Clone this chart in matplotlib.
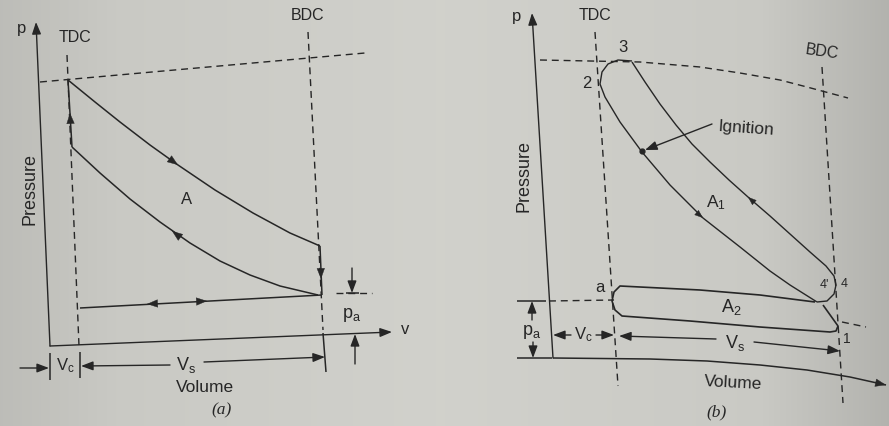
import numpy as np
import matplotlib
matplotlib.use("Agg")
import matplotlib.pyplot as plt

W, H = 889, 426
INK = "#262626"
SANS = "Liberation Sans"
SERIF = "Liberation Serif"

# ---- (a) ideal cycle (pixel frame of the page) ----
a_p_axis = [(50, 346), (36, 22)]
a_v_axis = [(50, 346), (392, 332)]
a_tdc = [(67, 55), (79, 346)]
a_bdc = [(308, 32), (323, 330)]
a_top_dash = [(40, 82), (365, 53)]
a_expansion = [(68, 80), (95, 102), (120, 122), (150, 145), (178, 165),
               (215, 190), (253, 213), (290, 233), (320, 246)]
a_compression = [(72, 147), (100, 173), (130, 199), (160, 222), (190, 243),
                 (220, 261), (250, 275), (280, 286), (318, 295)]
a_heat_add = [(72, 147), (68, 80)]
a_blowdown = [(320, 246), (322, 295)]
a_pumping = [(80, 308), (322, 295)]

# ---- (b) actual cycle ----
b_p_axis = [(553, 358), (532, 13)]
b_v_axis = [(553, 358), (650, 359), (707, 361), (760, 365), (807, 370),
            (850, 377), (886, 385)]
b_tdc = [(595, 32), (618, 386)]
b_bdc = [(822, 67), (843, 403)]
b_top_dash = [(540, 60), (640, 62), (700, 67), (740, 73), (780, 80),
              (807, 87), (848, 98)]
b_expansion = [(632, 62), (645, 82), (660, 104), (676, 125), (692, 144),
               (710, 162), (729, 180), (748, 197), (770, 216), (790, 234),
               (810, 252), (826, 266), (834, 276), (836, 285), (834, 294),
               (827, 301), (817, 302)]
b_compression = [(817, 302), (790, 285), (770, 271), (740, 247), (703, 218),
                 (670, 185), (642, 152), (620, 122), (605, 97), (600, 84),
                 (602, 72), (608, 64), (618, 60), (632, 61)]
b_pumping = [(823, 305), (838, 326), (836, 331), (830, 332), (760, 327),
             (690, 321), (622, 316), (615, 310), (612, 301), (614, 292),
             (620, 286), (700, 290), (760, 295), (815, 302)]
b_ignition = (642, 151)


def line(pts, ls="-", lw=1.1):
    x, y = zip(*pts)
    ax.plot(x, y, color=INK, lw=lw, ls=ls, solid_capstyle="butt",
            dash_capstyle="butt", solid_joinstyle="round")


def dashed(pts):
    line(pts, ls=(0, (5, 3.5)), lw=1.0)


def head(x, y, dx, dy, size=9):
    n = np.hypot(dx, dy)
    ax.annotate("", xy=(x, y), xytext=(x - dx / n, y - dy / n),
                arrowprops=dict(arrowstyle="-|>,head_length=0.8,head_width=0.3",
                                mutation_scale=size, lw=0.3, fc=INK, ec=INK,
                                shrinkA=0, shrinkB=0))


def arrow(tail, tip, size=9):
    ax.annotate("", xy=tip, xytext=tail,
                arrowprops=dict(arrowstyle="-|>,head_length=0.8,head_width=0.3",
                                mutation_scale=size, lw=1.0, fc=INK, ec=INK,
                                shrinkA=0, shrinkB=0))


def label(x, y, s, size=11.5, rot=0, family=SANS, style="normal"):
    ax.text(x, y, s, ha="center", va="center", fontsize=size, rotation=rot,
            color=INK, family=family, style=style)


fig = plt.figure(figsize=(W / 100, H / 100), dpi=100)
ax = fig.add_axes([0, 0, 1, 1])
ax.set_xlim(0, W)
ax.set_ylim(H, 0)
ax.axis("off")

# paper tone
shade = np.interp(np.arange(W), [0, 120, 440, 760, 889], [0.74, 0.79, 0.82, 0.79, 0.70])
paper = np.ones((H, W, 3)) * shade[None, :, None] * np.array([1.0, 1.0, 0.975])
ax.imshow(paper, extent=(0, W, H, 0), aspect="auto", zorder=-5)

# ================= (a) =================
arrow(a_p_axis[0], a_p_axis[1])
arrow(a_v_axis[0], a_v_axis[1])
dashed(a_tdc)
dashed(a_bdc)
dashed(a_top_dash)
line(a_expansion)
line(a_compression)
line(a_heat_add)
line(a_blowdown)
line(a_pumping)
line([(323, 333), (326, 372)])
head(178, 165, 1.0, 0.72)
head(172, 231, -1.0, -0.75)
head(70, 113, -0.05, -1)
head(321, 279, 0.02, 1)
head(147, 304, -1, 0.05)
head(207, 301, 1, -0.05)

# pa dimension
dashed([(336, 293), (372, 293)])
line([(346, 293), (359, 293)])
arrow((352, 268), (352, 293))
arrow((355, 364), (355, 334))

# Vc / Vs dimension
line([(50, 353), (50, 380)])
line([(80, 352), (80, 378)])
arrow((20, 368), (49, 368))
arrow((170, 365), (81, 366))
arrow((204, 362), (325, 357))

label(22, 28, "p", size=12)
label(75, 38, "TDC")
label(308, 15, "BDC")
label(30, 189, "Pressure", size=13, rot=90)
label(187, 200, "A", size=12)
label(352, 315, r"$\mathregular{p_a}$", size=13)
label(405, 330, "v", size=12)
label(65, 366, r"$\mathregular{V_c}$", size=12)
label(186, 365, r"$\mathregular{V_s}$", size=13)
label(205, 388, "Volume", size=12.5)
label(222, 410, "(a)", size=12.5, family=SERIF, style="italic")

# ================= (b) =================
arrow(b_p_axis[0], b_p_axis[1])
line(b_v_axis)
head(886, 385, 1, 0.22)
dashed(b_tdc)
dashed(b_bdc)
dashed(b_top_dash)
line(b_expansion, lw=1.0)
line(b_compression, lw=1.0)
line(b_pumping, lw=1.2)
ax.plot(*b_ignition, "o", ms=3.5, color=INK)
arrow((712, 124), (645, 150))
head(748, 197, -1, -0.88, size=7)
head(703, 218, 1, 0.85, size=7)

# pa dimension
line([(517, 301), (546, 301)])
dashed([(549, 301), (614, 300)])
line([(517, 358), (552, 358)])
arrow((532, 320), (532, 301))
arrow((533, 342), (533, 358))
dashed([(842, 322), (866, 327)])

# Vc / Vs dimension
arrow((571, 335), (553, 335))
arrow((596, 335), (614, 335))
arrow((716, 339), (619, 336))
arrow((754, 342), (840, 351))

label(517, 17, "p", size=12)
label(595, 15, "TDC")
label(822, 52, "BDC", rot=-8)
label(623, 48, "3", size=12)
label(587, 83, "2", size=12)
label(746, 128, "Ignition", size=12.5, rot=-4)
label(716, 203, r"$\mathregular{A_1}$", size=12.5)
label(731, 307, r"$\mathregular{A_2}$", size=13)
label(600, 287, "a", size=12)
label(824, 285, "4'", size=9)
label(844, 284, "4", size=9)
label(847, 339, "1", size=10)
label(524, 176, "Pressure", size=13, rot=90)
label(532, 332, r"$\mathregular{p_a}$", size=13)
label(583, 335, r"$\mathregular{V_c}$", size=12)
label(735, 343, r"$\mathregular{V_s}$", size=13)
label(733, 383, "Volume", size=12.5, rot=-3)
label(717, 412, "(b)", size=12.5, family=SERIF, style="italic")

fig.savefig("out.png", dpi=100)
